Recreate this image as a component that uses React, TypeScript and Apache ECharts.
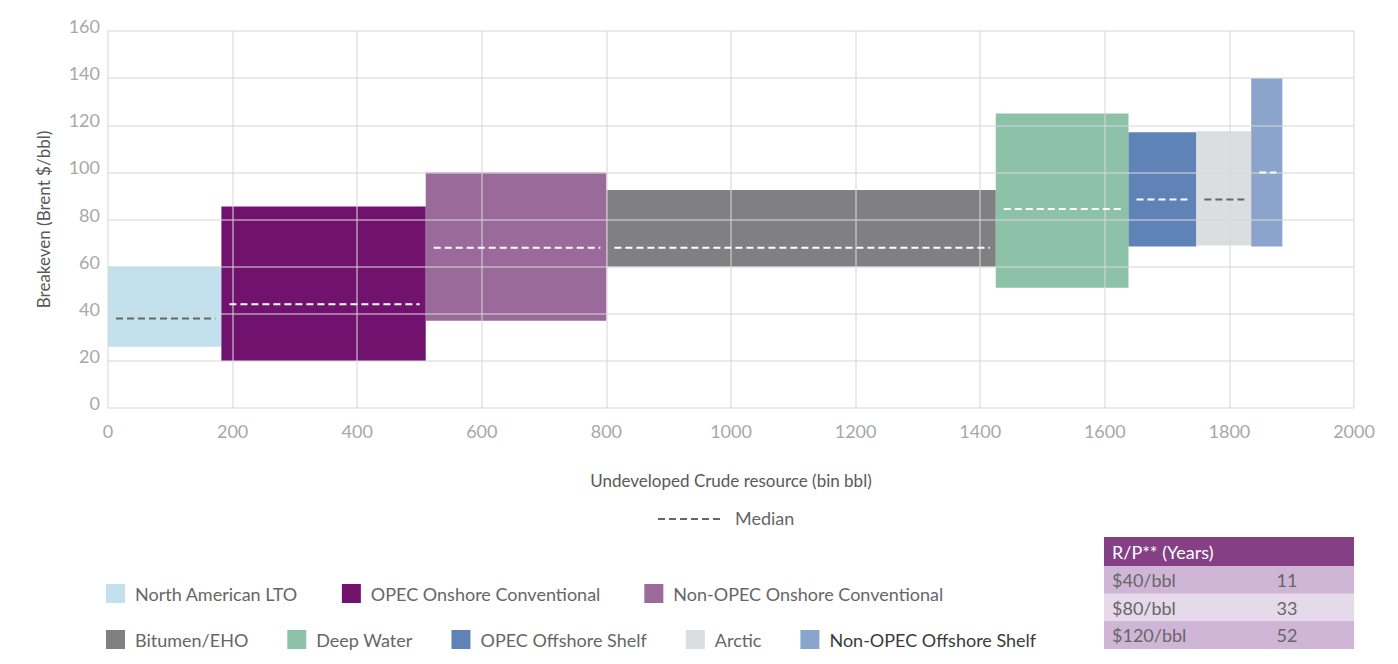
import React, { useEffect, useRef } from "react";
import * as echarts from "echarts";

// ---- Data ----
const categories = [
  "North American LTO",
  "OPEC Onshore Conventional",
  "Non-OPEC Onshore Conventional",
  "Bitumen/EHO",
  "Deep Water",
  "OPEC Offshore Shelf",
  "Arctic",
  "Non-OPEC Offshore Shelf",
];
const resourceStart = [0, 182, 510, 800, 1425, 1638, 1747, 1835];
const resourceEnd = [182, 510, 800, 1425, 1638, 1747, 1835, 1885];
const breakevenLow = [26, 20, 37, 60, 51, 68.5, 69, 68.5];
const breakevenHigh = [60, 85.5, 100, 92.5, 125, 117, 117.5, 140];
const breakevenMedian = [38, 44, 68, 68, 84.5, 88.5, 88.5, 100];
const rpPrices = ["$40/bbl", "$80/bbl", "$120/bbl"];
const rpYears = ["11", "33", "52"];
const rpHeader = "R/P** (Years)";

// ---- Styles ----
const colors = ["#c2e1ec", "#70126e", "#9a6a9b", "#808083", "#8dc2a8", "#5f83b6", "#dcdddf", "#8aa4cb"];
const medianColors = ["#666666", "#ffffff", "#ffffff", "#ffffff", "#ffffff", "#ffffff", "#666666", "#ffffff"];
const FONT = 'Lato, "Noto Sans", sans-serif';

export default function App() {
  const ref = useRef<HTMLDivElement>(null);

  useEffect(() => {
    if (!ref.current) return;
    const chart = echarts.init(ref.current, undefined, { renderer: "svg" });

    const rectSeries = categories.map((name, i) => ({
      type: "custom",
      name,
      z: 1,
      itemStyle: { color: colors[i] },
      encode: { x: [0, 1], y: [2, 3] },
      data: [[resourceStart[i], resourceEnd[i], breakevenLow[i], breakevenHigh[i]]],
      renderItem: (params: any, api: any) => {
        const p0 = api.coord([api.value(0), api.value(3)]);
        const p1 = api.coord([api.value(1), api.value(2)]);
        return {
          type: "rect",
          shape: { x: p0[0], y: p0[1], width: p1[0] - p0[0], height: p1[1] - p0[1] },
          style: { fill: colors[i] },
        };
      },
    }));

    const medianSeries = {
      type: "custom",
      name: "Median",
      z: 10,
      encode: { x: [0, 1], y: 2 },
      data: categories.map((_, i) => [resourceStart[i], resourceEnd[i], breakevenMedian[i], i]),
      renderItem: (params: any, api: any) => {
        const p0 = api.coord([api.value(0), api.value(2)]);
        const p1 = api.coord([api.value(1), api.value(2)]);
        const idx = api.value(3);
        return {
          type: "line",
          shape: { x1: p0[0] + 8, y1: p0[1], x2: p1[0] - 6, y2: p1[1] },
          style: { stroke: medianColors[idx], lineWidth: 2, lineDash: [7, 4] },
        };
      },
    };

    const legendCommon = {
      left: 106,
      padding: 0,
      itemWidth: 19,
      itemHeight: 19,
      icon: "rect",
      selectedMode: false,
      textStyle: { color: "#666", fontSize: 18, fontFamily: FONT, padding: [0, 0, 0, 5] },
    };

    const tableX = 1104;
    const tableW = 250;
    const rowYs = [566, 593.5, 621];
    const rowH = 28;
    const rowFills = ["#d0b6d6", "#e6d9ea", "#d0b6d6"];

    const tableGraphics: any[] = [
      { type: "rect", shape: { x: tableX, y: 537, width: tableW, height: 29 }, style: { fill: "#853f84" } },
      {
        type: "text",
        x: tableX + 8,
        y: 551.5,
        style: { text: rpHeader, fill: "#ffffff", fontSize: 18, fontFamily: FONT, verticalAlign: "middle" },
      },
    ];
    rpPrices.forEach((p, i) => {
      tableGraphics.push({
        type: "rect",
        shape: { x: tableX, y: rowYs[i], width: tableW, height: rowH },
        style: { fill: rowFills[i] },
      });
      tableGraphics.push({
        type: "text",
        x: tableX + 8,
        y: rowYs[i] + rowH / 2,
        style: { text: p, fill: "#666", fontSize: 18, fontFamily: FONT, verticalAlign: "middle" },
      });
      tableGraphics.push({
        type: "text",
        x: 1287,
        y: rowYs[i] + rowH / 2,
        style: { text: rpYears[i], fill: "#666", fontSize: 18, fontFamily: FONT, verticalAlign: "middle", align: "center" },
      });
    });

    const splitLineStyle = { color: "rgba(215,215,215,0.7)", width: 1.5 };

    chart.setOption({
      animation: false,
      grid: { left: 108, right: 44, top: 31, bottom: 256, containLabel: false },
      xAxis: {
        type: "value",
        min: 0,
        max: 2000,
        interval: 200,
        z: 5,
        name: "Undeveloped Crude resource (bin bbl)",
        nameLocation: "middle",
        nameGap: 64,
        nameTextStyle: { color: "#595959", fontSize: 17, fontFamily: FONT },
        axisLine: { show: false },
        axisTick: { show: false },
        splitLine: { show: true, lineStyle: splitLineStyle },
        axisLabel: {
          color: "#a8a8a8",
          fontSize: 18,
          fontFamily: FONT,
          margin: 14,
          formatter: (v: number) => String(v),
        },
      },
      yAxis: {
        type: "value",
        min: 0,
        max: 160,
        interval: 20,
        z: 5,
        name: "Breakeven (Brent $/bbl)",
        nameLocation: "middle",
        nameGap: 56,
        nameTextStyle: { color: "#595959", fontSize: 17, fontFamily: FONT },
        axisLine: { show: false },
        axisTick: { show: false },
        splitLine: { show: true, lineStyle: splitLineStyle },
        axisLabel: {
          color: "#a8a8a8",
          fontSize: 18,
          fontFamily: FONT,
          margin: 8,
          verticalAlign: "bottom",
          lineHeight: 10,
        },
      },
      legend: [
        { ...legendCommon, itemGap: 44, top: 584, data: categories.slice(0, 3) },
        {
          ...legendCommon,
          itemGap: 39,
          top: 630,
          data: categories.slice(3).map((n, i) =>
            i === 4 ? { name: n, textStyle: { color: "#3a3a3a" } } : { name: n }
          ),
        },
      ],
      graphic: [
        {
          type: "line",
          shape: { x1: 658, y1: 519, x2: 723, y2: 519 },
          style: { stroke: "#666", lineWidth: 2, lineDash: [7, 4] },
        },
        {
          type: "text",
          x: 735,
          y: 518,
          style: { text: "Median", fill: "#666", fontSize: 18, fontFamily: FONT, verticalAlign: "middle" },
        },
        ...tableGraphics,
      ],
      series: [...rectSeries, medianSeries],
    });

    return () => chart.dispose();
  }, []);

  return (
    <div
      ref={ref}
      style={{ position: "absolute", left: 0, top: 0, width: 1398, height: 664, background: "#fff" }}
    />
  );
}
